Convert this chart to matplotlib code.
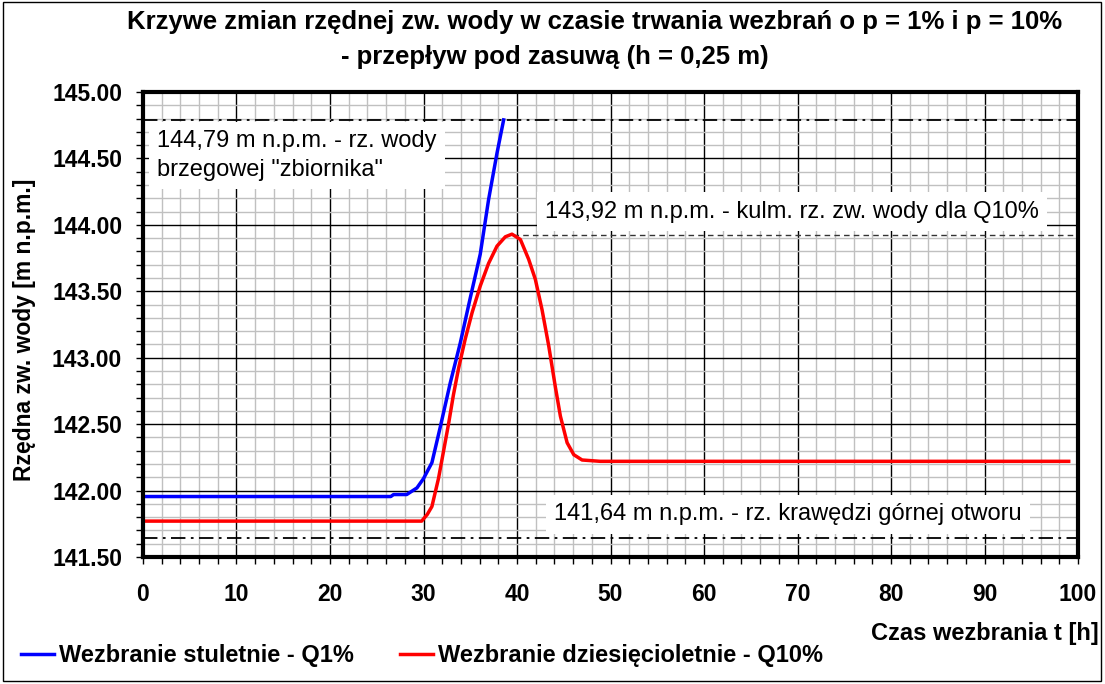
import numpy as np
import matplotlib.pyplot as plt
from matplotlib.ticker import MultipleLocator
from matplotlib.patches import Rectangle

plt.rcParams['font.family'] = ['Liberation Sans', 'DejaVu Sans']

# Q1% - wezbranie stuletnie
t1 = [0, 26.5, 26.8, 28.2, 29.3, 30.0, 30.9, 31.8, 32.86, 33.93, 35.0, 36.07, 36.96, 37.86, 38.57]
h1 = [141.955, 141.955, 141.97, 141.97, 142.02, 142.09, 142.21, 142.48, 142.81, 143.11, 143.45, 143.78,
      144.19, 144.54, 144.79]

# Q10% - wezbranie dziesiecioletnie
t10 = [0, 29.8, 30.4, 30.9, 31.4, 31.6, 32.1, 32.7, 33.2, 33.75, 34.46, 35.2, 36.07, 36.96, 37.86,
       38.75, 39.46, 40.36, 41.25, 41.96, 42.68, 43.39, 44.1, 44.64, 45.36, 46.07, 46.96, 48.9, 99]
h10 = [141.77, 141.77, 141.82, 141.88, 142.03, 142.09, 142.28, 142.51, 142.72, 142.92, 143.14, 143.34,
       143.54, 143.71, 143.84, 143.91, 143.93, 143.89, 143.74, 143.59, 143.36, 143.09, 142.78, 142.56,
       142.36, 142.27, 142.23, 142.22, 142.22]

lvl_brzeg = 144.79
lvl_kulm = 143.92
lvl_otwor = 141.64

fig = plt.figure(figsize=(11.05, 6.84), dpi=100)
ax = fig.add_axes([0.1294, 0.1857, 0.8462, 0.6798])

ax.plot(t1, h1, color='#0000ff', lw=2.5, label='Wezbranie stuletnie - Q1%', zorder=5)
ax.plot(t10, h10, color='#ff0000', lw=2.5, label='Wezbranie dziesięcioletnie - Q10%', zorder=5)

ax.axhline(lvl_brzeg, color='black', lw=1.3, ls=(0, (8, 3, 1.5, 3)), zorder=3)
ax.axhline(lvl_otwor, color='black', lw=1.3, ls=(0, (8, 3, 1.5, 3)), zorder=3)
ax.plot([39.6, 100], [lvl_kulm, lvl_kulm], color='#333333', lw=1.0, ls=(0, (4, 3)), zorder=3)

box = dict(facecolor='white', edgecolor='none', pad=6)
ax.text(1.5, 144.52, '144,79 m n.p.m. - rz. wody\nbrzegowej "zbiornika"', fontsize=17,
        va='center', ha='left', bbox=box, linespacing=1.4, zorder=4)
ax.text(69.4, 144.10, '143,92 m n.p.m. - kulm. rz. zw. wody dla Q10%', fontsize=17,
        va='center', ha='center', bbox=box, zorder=4)
ax.text(69.0, 141.82, '141,64 m n.p.m. - rz. krawędzi górnej otworu', fontsize=17,
        va='center', ha='center', bbox=box, zorder=4)

ax.set_xlim(0, 100)
ax.set_ylim(141.5, 145.0)
ax.xaxis.set_major_locator(MultipleLocator(10))
ax.xaxis.set_minor_locator(MultipleLocator(2))
ax.yaxis.set_major_locator(MultipleLocator(0.5))
ax.yaxis.set_minor_locator(MultipleLocator(0.1))
ax.yaxis.set_major_formatter(lambda v, p: f'{v:.2f}')
ax.grid(which='minor', color='#c0c0c0', lw=1.0, zorder=1)
ax.grid(which='major', color='black', lw=1.0, zorder=2)
ax.set_axisbelow(True)
ax.tick_params(which='both', direction='out', length=5, width=1, labelsize=16.5)
ax.tick_params(axis='x', pad=14)
ax.tick_params(axis='y', pad=10)
for lab in ax.get_xticklabels() + ax.get_yticklabels():
    lab.set_fontweight('bold')
for s in ax.spines.values():
    s.set_linewidth(3)
    s.set_zorder(6)

ax.set_ylabel('Rzędna zw. wody [m n.p.m.]', fontsize=16.5, fontweight='bold')
ax.yaxis.set_label_coords(-0.114, 0.488)
fig.text(0.994, 0.074, 'Czas wezbrania t [h]', fontsize=17, fontweight='bold',
         ha='right', va='center')

fig.text(0.538, 0.968, 'Krzywe zmian rzędnej zw. wody w czasie trwania wezbrań o p = 1% i p = 10%',
         fontsize=18.5, fontweight='bold', ha='center', va='center')
fig.text(0.502, 0.916, '- przepływ pod zasuwą (h = 0,25 m)',
         fontsize=18.5, fontweight='bold', ha='center', va='center')

fig.legend(loc='lower left', bbox_to_anchor=(0.0, -0.006), ncol=2, frameon=False,
           prop={'weight': 'bold', 'size': 17}, handlelength=1.4, handletextpad=0.2,
           columnspacing=1.95)

fig.patches.append(Rectangle((0.003, 0.004), 0.993, 0.993, transform=fig.transFigure,
                             fill=False, edgecolor='black', lw=1.0))

fig.savefig('out.png', dpi=100)
